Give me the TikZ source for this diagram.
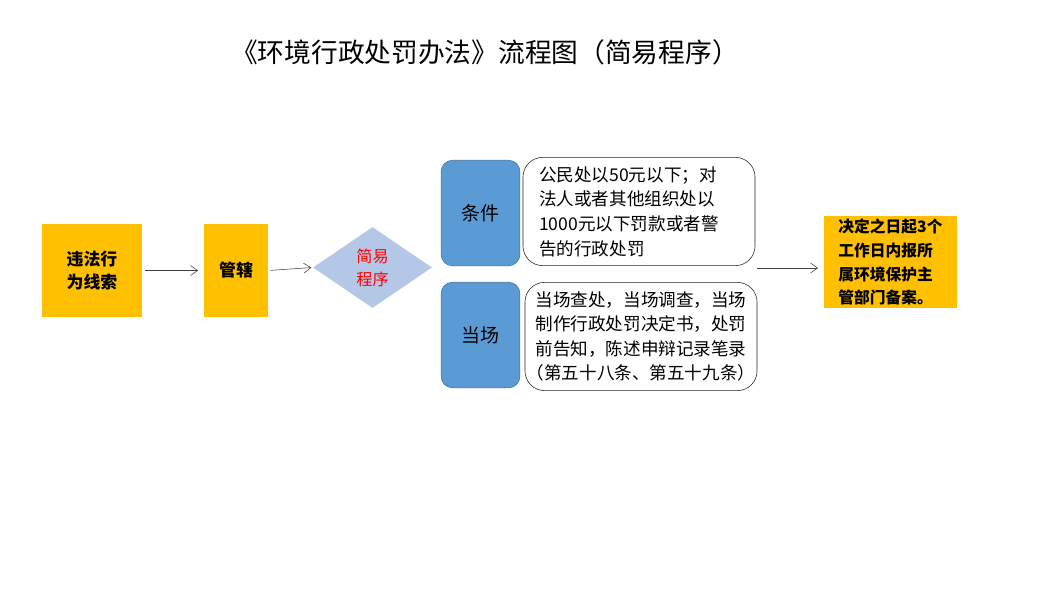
\documentclass[tikz,border=0pt]{standalone}
\usepackage{fontspec}
\setmainfont{Noto Sans CJK SC}
\usetikzlibrary{shapes.geometric, arrows.meta, positioning, calc}
\definecolor{gold}{HTML}{FFC000}
\definecolor{lightblue}{HTML}{B4C7E7}
\definecolor{midblue}{HTML}{5B9BD5}
\definecolor{edgeblue}{HTML}{41719C}

\begin{document}
\begin{tikzpicture}[x=0.025cm, y=-0.025cm,
  goldbox/.style={fill=gold, inner sep=0pt, align=center, font=\fontsize{12}{16.5}\selectfont\bfseries},
  tagbox/.style={fill=midblue, draw=edgeblue, rounded corners=8pt, minimum width=56pt, minimum height=75pt, font=\fontsize{13.5}{16}\selectfont},
  notebox/.style={draw=black!85, fill=white, rounded corners=14pt, minimum width=165pt, minimum height=77pt, font=\fontsize{12.5}{17.5}\selectfont},
  flow/.style={draw=black!75, -{Straight Barb[length=5pt,width=7pt]}}]
  \useasboundingbox (0,0) rectangle (1062,593);

  % Title
  \node[font=\fontsize{19}{22}\selectfont] (title) at (485,52) {《环境行政处罚办法》流程图（简易程序）};

  % Left chain
  \node[goldbox, minimum width=71pt, minimum height=66pt] (clue) at (92,270.5) {违法行\\为线索};
  \node[goldbox, minimum width=45.5pt, minimum height=66pt] (court) at (236,270.5) {管辖};
  \node[diamond, fill=lightblue, inner sep=0pt, minimum width=84.6pt, minimum height=57.6pt,
        text=red, align=center, font=\fontsize{11.5}{16.5}\selectfont] (simple) at (372.5,267.5) {简易\\程序};

  % Conditions and procedure
  \node[tagbox] (cond) at (480.5,213) {条件};
  \node[tagbox] (spot) at (480.5,335) {当场};
  \node[notebox, text width=142pt, inner xsep=11.5pt, align=left] (condtext) at (639,211.5)
    {公民处以50元以下；对\\法人或者其他组织处以\\1000元以下罚款或者警\\告的行政处罚};
  \node[notebox, inner xsep=1pt, align=center] (spottext) at (641,336.5)
    {当场查处，当场调查，当场\\制作行政处罚决定书，处罚\\前告知，陈述申辩记录笔录\\（第五十八条、第五十九条）};

  % Record
  \node[goldbox, align=left, minimum width=94.6pt, minimum height=65.4pt,
        font=\fontsize{11.2}{17}\selectfont\bfseries] (record) at (890.5,262)
    {决定之日起3个\\工作日内报所\\属环境保护主\\管部门备案。};

  % Connectors
  \coordinate (fork) at (757,268);
  \draw[flow, shorten <=2pt, shorten >=4pt] (clue.east) -- (court.west);
  \draw[flow, shorten <=1.5pt, shorten >=1pt] (court.east) -- (simple.west);
  \draw[flow, shorten >=4pt] (fork) -- (fork -| record.west);
\end{tikzpicture}
\end{document}
